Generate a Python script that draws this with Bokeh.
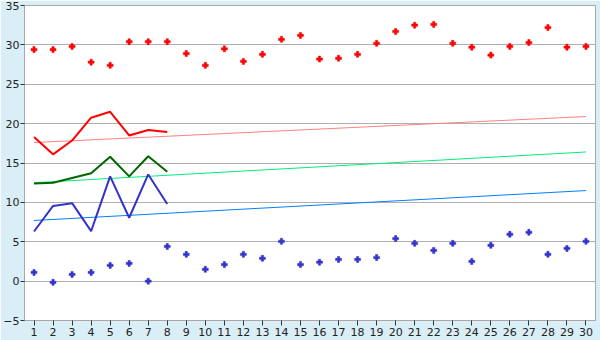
from bokeh.plotting import figure
from bokeh.models import FixedTicker, Range1d
from bokeh.embed import file_html
from bokeh.resources import INLINE

days = list(range(1, 31))

red_points = [29.4, 29.4, 29.8, 27.8, 27.4, 30.4, 30.4, 30.4, 28.9, 27.4,
              29.5, 27.9, 28.8, 30.7, 31.2, 28.2, 28.3, 28.8, 30.2, 31.7,
              32.5, 32.6, 30.2, 29.7, 28.7, 29.8, 30.3, 32.2, 29.7, 29.8]
blue_points = [1.1, -0.15, 0.85, 1.1, 2.0, 2.25, 0.0, 4.4, 3.4, 1.5,
               2.1, 3.4, 2.9, 5.05, 2.1, 2.4, 2.75, 2.75, 3.0, 5.4,
               4.8, 3.9, 4.8, 2.5, 4.55, 5.95, 6.2, 3.4, 4.15, 5.05]

line_days = [1, 2, 3, 4, 5, 6, 7, 8]
red_line = [18.3, 16.1, 17.85, 20.75, 21.5, 18.5, 19.2, 18.95]
green_line = [12.4, 12.5, 13.1, 13.7, 15.8, 13.3, 15.85, 13.9]
blue_line = [6.3, 9.55, 9.9, 6.35, 13.3, 8.05, 13.55, 9.8]

trend_days = [1, 30]
red_trend = [17.6, 20.9]
green_trend = [12.5, 16.4]
blue_trend = [7.7, 11.5]

y_ticks = [-5, 0, 5, 10, 15, 20, 25, 30, 35]

p = figure(width=600, height=340, output_backend="svg", toolbar_location=None,
           x_range=Range1d(0.5, 30.5), y_range=Range1d(-5, 35),
           min_border_left=20, min_border_right=5, min_border_top=5, min_border_bottom=20)

p.border_fill_color = "#d9eef6"
p.background_fill_color = "white"
p.outline_line_color = "#a8a8a8"
p.outline_line_width = 1

p.xgrid.grid_line_color = None
p.ygrid.grid_line_color = "#b0b0b0"
p.ygrid.grid_line_width = 1

p.xaxis.ticker = FixedTicker(ticks=days)
p.yaxis.ticker = FixedTicker(ticks=y_ticks)
for ax in (p.xaxis, p.yaxis):
    ax.axis_line_color = "#a8a8a8"
    ax.major_tick_line_color = "#333333"
    ax.minor_tick_line_color = None
    ax.major_tick_in = 0
    ax.major_tick_out = 5
    ax.major_label_text_font = "DejaVu Sans"
    ax.major_label_text_font_size = "11px"
    ax.major_label_text_color = "#222222"
p.xaxis.major_label_standoff = 2
p.yaxis.major_label_standoff = 1
p.yaxis.major_tick_out = 4

# trend lines
p.line(trend_days, red_trend, line_color="#ff8080", line_width=1)
p.line(trend_days, green_trend, line_color="#00ee77", line_width=1)
p.line(trend_days, blue_trend, line_color="#0080ff", line_width=1)

# series lines
p.line(line_days, red_line, line_color="#ff0000", line_width=2)
p.line(line_days, green_line, line_color="#006600", line_width=2)
p.line(line_days, blue_line, line_color="#3333cc", line_width=2)

# scatter points
p.scatter(days, red_points, marker="plus", size=6, fill_color="#ff0000", line_color="#ff0000", line_width=0.5)
p.scatter(days, blue_points, marker="plus", size=6, fill_color="#3333cc", line_color="#3333cc", line_width=0.5)

open("out.html", "w").write(file_html(p, INLINE))
